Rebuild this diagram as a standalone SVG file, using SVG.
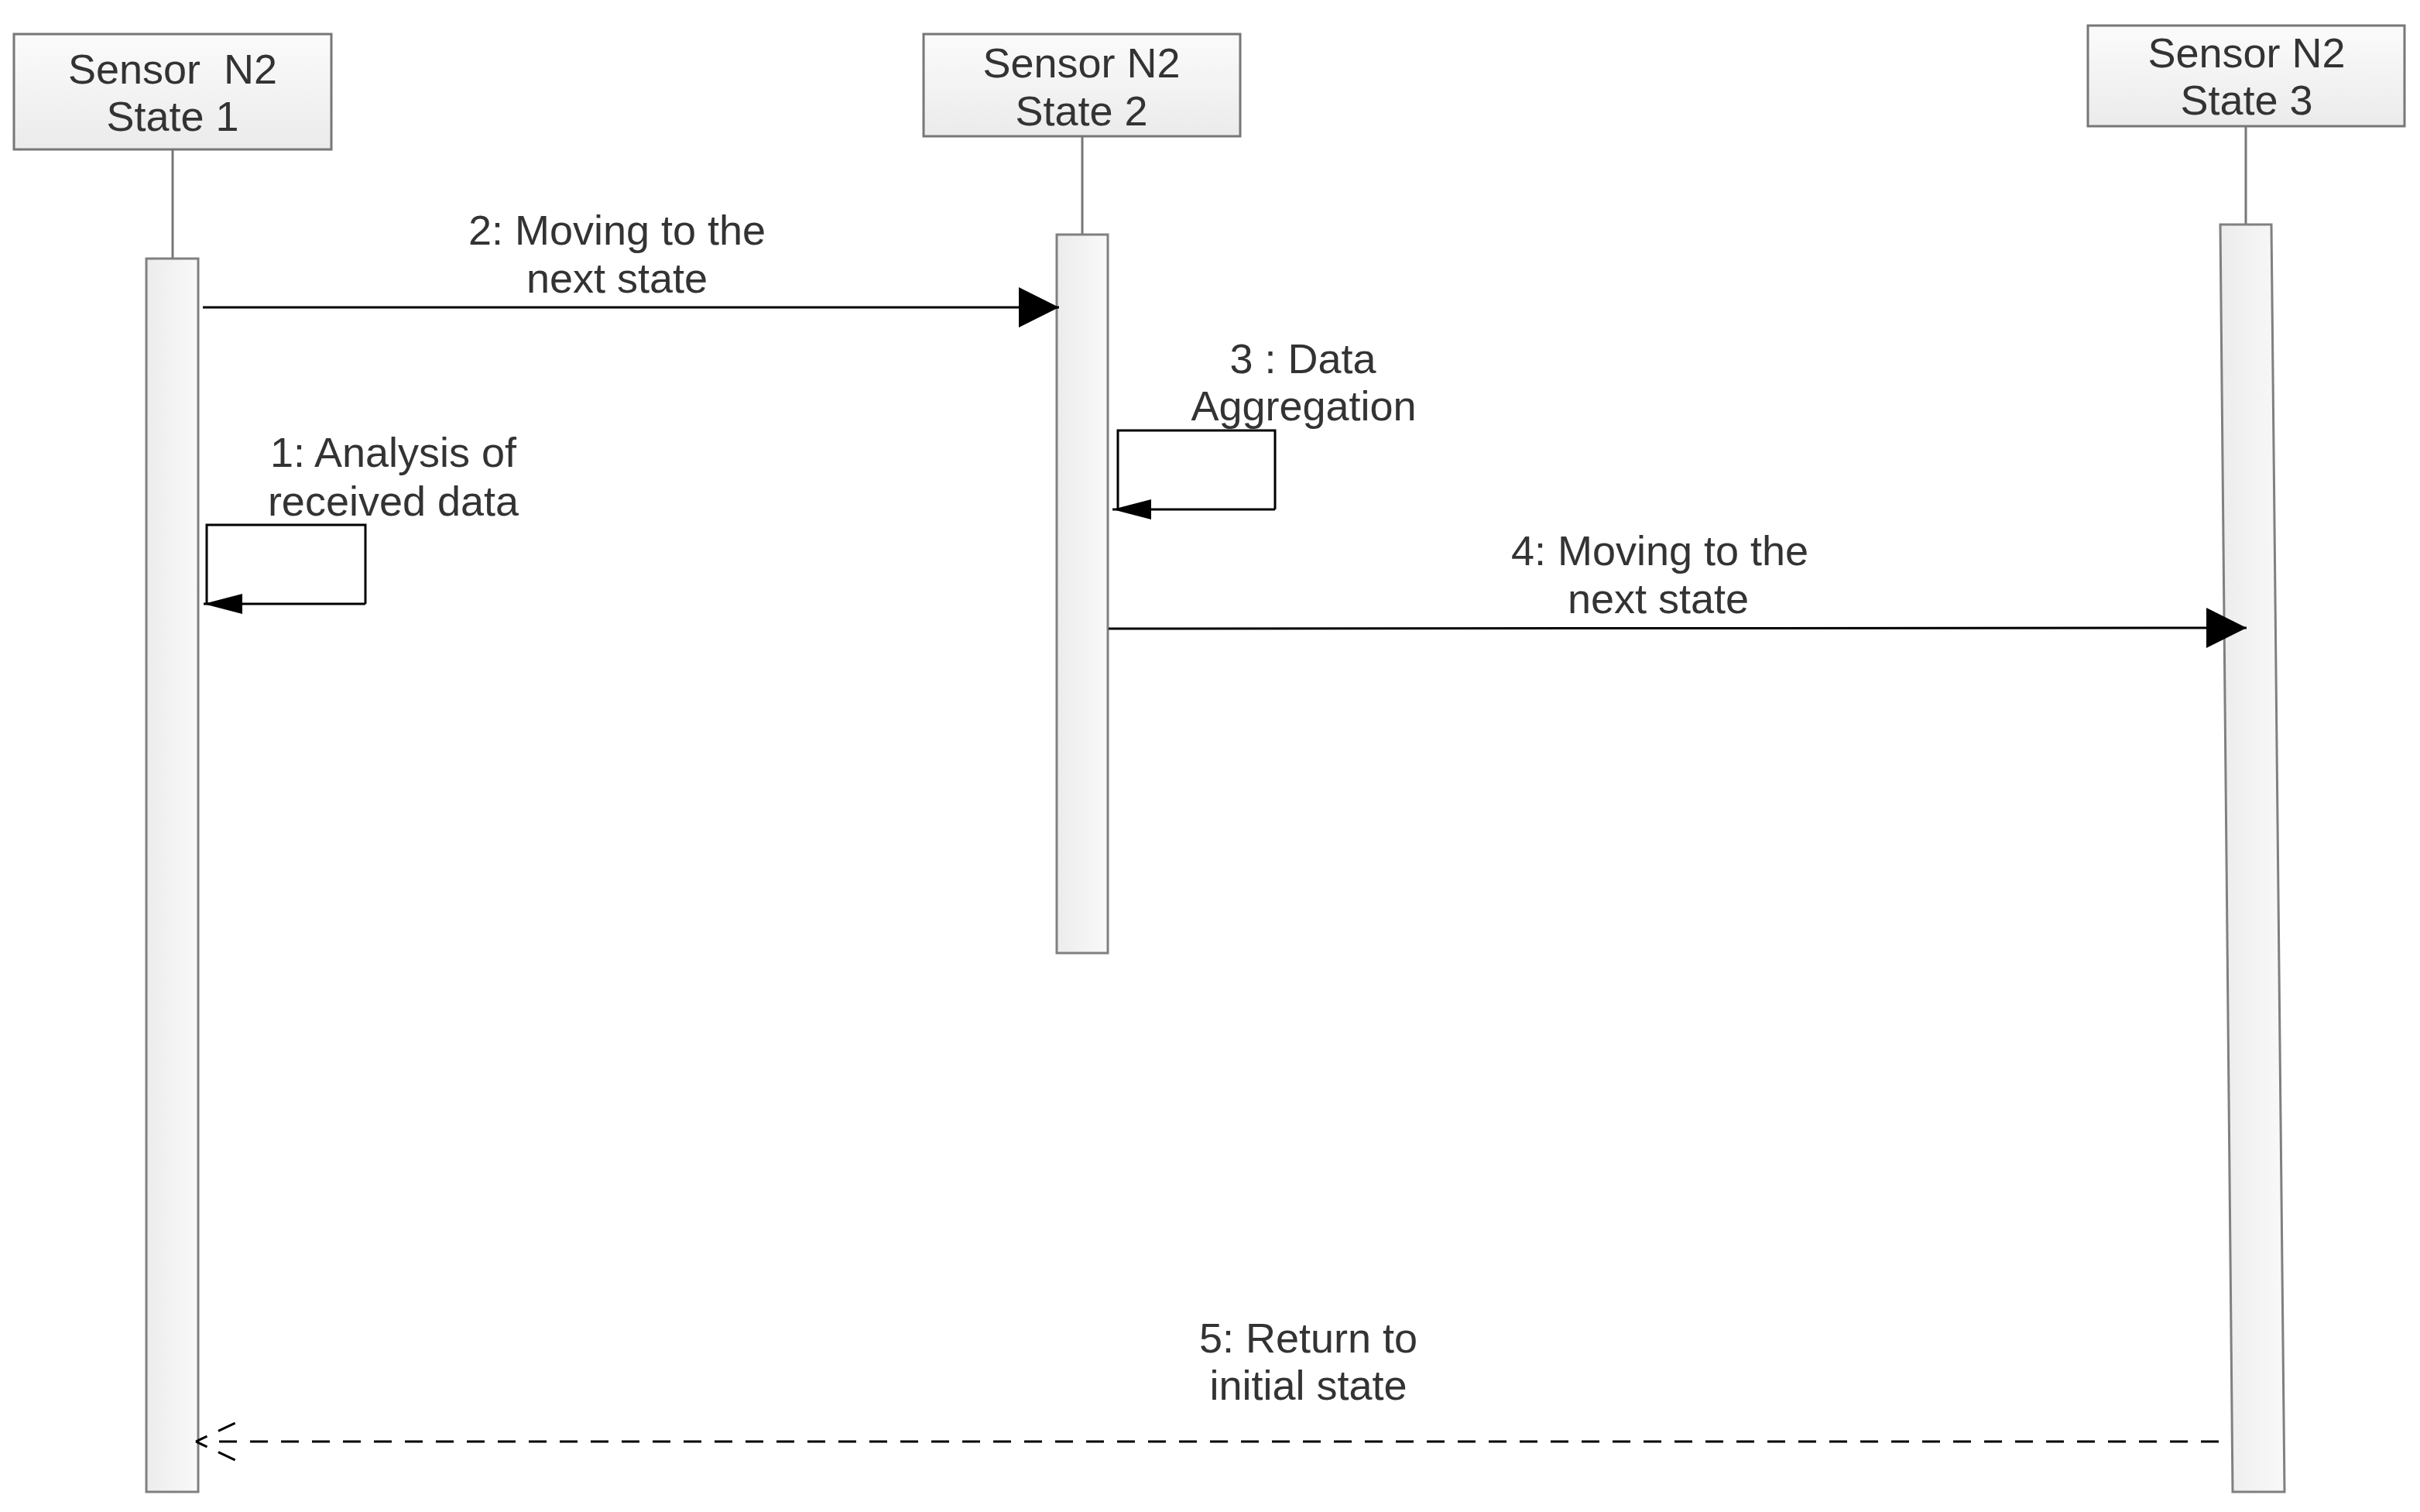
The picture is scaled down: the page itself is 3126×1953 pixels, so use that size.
<svg xmlns="http://www.w3.org/2000/svg" width="3126" height="1953" viewBox="0 0 3126 1953">
<defs>
<linearGradient id="boxg" x1="0" y1="0" x2="0" y2="1"><stop offset="0" stop-color="#fbfbfb"/><stop offset="1" stop-color="#ebebeb"/></linearGradient>
<linearGradient id="actg" x1="0" y1="0" x2="1" y2="0"><stop offset="0" stop-color="#ececec"/><stop offset="1" stop-color="#f9f9f9"/></linearGradient>
<marker id="big" markerUnits="userSpaceOnUse" markerWidth="54" markerHeight="54" refX="52" refY="26" orient="auto"><path d="M0,0 L52,26 L0,52 Z" fill="#000"/></marker>
<marker id="small" markerUnits="userSpaceOnUse" markerWidth="52" markerHeight="28" refX="50" refY="13" orient="auto"><path d="M0,0 L50,13 L0,26 Z" fill="#000"/></marker>
</defs>
<style>
.box{fill:url(#boxg);stroke:#777;stroke-width:3}
.act{fill:url(#actg);stroke:#808080;stroke-width:3}
.life{stroke:#777;stroke-width:3;fill:none}
.t{font-family:"Liberation Sans",Arial,sans-serif;fill:#333;text-anchor:middle}
.bt{font-size:54px}
.lt{font-size:54px}
.msg{stroke:#000;stroke-width:3;fill:none}
.dash{stroke:#000;stroke-width:3;fill:none;stroke-dasharray:23 17}
</style>
<rect width="3126" height="1953" fill="#fff"/>
<g id="node-state1">
<line class="life" x1="223" y1="193" x2="223" y2="334"/>
<rect class="box" x="18" y="44" width="410" height="149"/>
<text class="t bt" x="223" y="108" xml:space="preserve">Sensor  N2</text>
<text class="t bt" x="223" y="169">State 1</text>
<rect class="act" x="189" y="334" width="67" height="1593"/>
</g>
<g id="node-state2">
<line class="life" x1="1398" y1="176" x2="1398" y2="303"/>
<rect class="box" x="1193" y="44" width="409" height="132"/>
<text class="t bt" x="1397" y="100">Sensor N2</text>
<text class="t bt" x="1397" y="162">State 2</text>
<rect class="act" x="1365" y="303" width="66" height="928"/>
</g>
<g id="node-state3">
<line class="life" x1="2901" y1="163" x2="2901" y2="290"/>
<rect class="box" x="2697" y="33" width="409" height="130"/>
<text class="t bt" x="2902" y="87">Sensor N2</text>
<text class="t bt" x="2902" y="148">State 3</text>
<polygon class="act" points="2868,290 2934,290 2951,1927 2884,1927"/>
</g>
<g id="connectors">
<line class="msg" x1="262" y1="397" x2="1368" y2="397" marker-end="url(#big)"/>
<text class="t lt" x="797" y="316">2: Moving to the</text>
<text class="t lt" x="797" y="378">next state</text>
<path class="msg" d="M472,780 L472,678 L267,678 L267,780 M472,780 L263,780" marker-end="url(#small)"/>
<text class="t lt" x="508" y="603">1: Analysis of</text>
<text class="t lt" x="508" y="666">received data</text>
<path class="msg" d="M1647,658 L1647,556 L1444,556 L1444,658 M1647,658 L1437,658" marker-end="url(#small)"/>
<text class="t lt" x="1683" y="482">3 : Data</text>
<text class="t lt" x="1684" y="543">Aggregation</text>
<line class="msg" x1="1432" y1="812" x2="2902" y2="811" marker-end="url(#big)"/>
<text class="t lt" x="2144" y="730">4: Moving to the</text>
<text class="t lt" x="2142" y="792">next state</text>
<line class="dash" x1="2866" y1="1862" x2="277" y2="1862"/>
<path d="M253,1862 L304,1838 M253,1862 L304,1886" stroke="#000" stroke-width="3" fill="none" stroke-dasharray="16 16 24"/>
<text class="t lt" x="1690" y="1747">5: Return to</text>
<text class="t lt" x="1690" y="1808">initial state</text>
</g>
</svg>
